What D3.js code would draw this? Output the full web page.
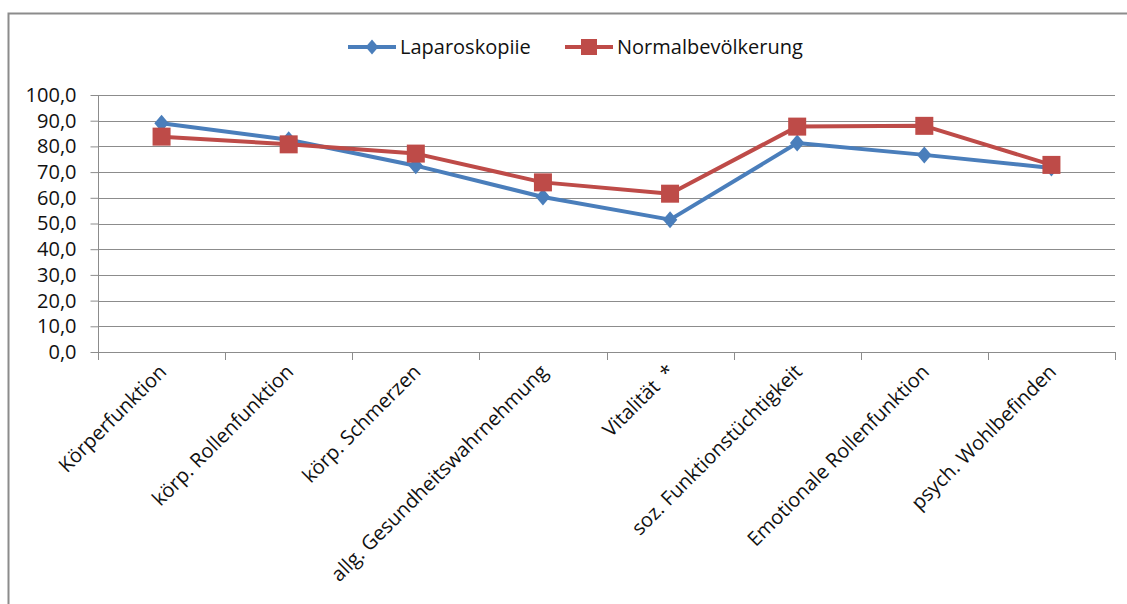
<!DOCTYPE html>
<html><head><meta charset="utf-8">
<script src="https://cdn.jsdelivr.net/npm/d3@7/dist/d3.min.js"></script>
<style>
html,body{margin:0;padding:0;background:#fff;}
svg{display:block;font-family:"Open Sans","Liberation Sans",sans-serif;}
</style></head>
<body><svg id="c" width="1127" height="604"></svg>
<script>
const categories = ["Körperfunktion","körp. Rollenfunktion","körp. Schmerzen","allg. Gesundheitswahrnehmung","Vitalität  *","soz. Funktionstüchtigkeit","Emotionale Rollenfunktion","psych. Wohlbefinden"];
const seriesNames = ["Laparoskopiie","Normalbevölkerung"];
const laparoskopie = [89.0, 82.6, 72.5, 60.3, 51.5, 81.3, 76.7, 71.6];
const normal = [83.8, 80.8, 77.2, 66.0, 61.6, 87.7, 88.0, 72.8];
const yTicks = [0,10,20,30,40,50,60,70,80,90,100];

(function(){
const svg = d3.select("#c");
const colors = ["#4A7EBB","#BE4B48"];
const pLeft = 98, pRight = 1115, pTop = 95, pBottom = 352;
const fs = 20;

// outer border
svg.append("path").attr("d","M8.5,604 L8.5,13.5 L1127,13.5").attr("fill","none").attr("stroke","#8c8c8c").attr("stroke-width",2);

const x = d3.scaleBand().domain(categories).range([pLeft,pRight]).padding(0);
const y = d3.scaleLinear().domain([0,100]).range([pBottom,pTop]);

// gridlines
svg.append("g").selectAll("line").data(yTicks.filter(d=>d>0)).join("line")
  .attr("x1",pLeft).attr("x2",pRight).attr("y1",d=>Math.round(y(d))+0.5).attr("y2",d=>Math.round(y(d))+0.5)
  .attr("stroke","#8c8c8c").attr("stroke-width",1);

// y axis
const yAxis = d3.axisLeft(y).tickValues(yTicks).tickSize(8).tickPadding(14)
  .tickFormat(d=>d3.format(".1f")(d).replace(".",","));
const gy = svg.append("g").attr("transform",`translate(${pLeft+0.5},0)`).call(yAxis);
gy.select(".domain").attr("stroke","#8c8c8c").attr("d",`M0,${pTop}V${pBottom}`);
gy.selectAll(".tick line").attr("stroke","#8c8c8c");
gy.selectAll(".tick text").attr("font-size",fs).attr("fill","#111").attr("font-family","'Open Sans','Liberation Sans',sans-serif");

// x axis line + ticks at band boundaries
const bounds = categories.map(c=>x(c)).concat([pRight]);
svg.append("line").attr("x1",pLeft).attr("x2",pRight).attr("y1",pBottom+0.5).attr("y2",pBottom+0.5).attr("stroke","#8c8c8c");
svg.append("g").selectAll("line").data(bounds).join("line")
  .attr("x1",d=>Math.round(d)+0.5).attr("x2",d=>Math.round(d)+0.5).attr("y1",pBottom).attr("y2",pBottom+8)
  .attr("stroke","#8c8c8c");

// x labels
svg.append("g").selectAll("text").data(categories).join("text")
  .attr("transform",d=>`translate(${x(d)+x.bandwidth()/2+6},${pBottom+21}) rotate(-45)`)
  .attr("text-anchor","end").attr("font-size",fs).attr("fill","#111")
  .style("white-space","pre").text(d=>d);

const cx = d => x(d)+x.bandwidth()/2;
const data = [laparoskopie, normal];
const line = d3.line().x((d,i)=>cx(categories[i])).y(d=>y(d));

data.forEach((vals,k)=>{
  svg.append("path").datum(vals).attr("d",line).attr("fill","none")
    .attr("stroke",colors[k]).attr("stroke-width",4).attr("stroke-linejoin","round");
});
// markers
const diamond = s => `M0,${-s}L${s*0.85},0L0,${s}L${-s*0.85},0Z`;
svg.append("g").selectAll("path").data(laparoskopie).join("path")
  .attr("transform",(d,i)=>`translate(${cx(categories[i])},${y(d)})`)
  .attr("d",diamond(8.5)).attr("fill",colors[0]);
svg.append("g").selectAll("rect").data(normal).join("rect")
  .attr("x",(d,i)=>cx(categories[i])-9).attr("y",d=>y(d)-9).attr("width",18).attr("height",18)
  .attr("fill",colors[1]);

// legend
const leg = [{x:348,label:seriesNames[0]},{x:565,label:seriesNames[1]}];
leg.forEach((l,k)=>{
  const g = svg.append("g").attr("transform",`translate(${l.x},47)`);
  g.append("line").attr("x1",0).attr("x2",48).attr("stroke",colors[k]).attr("stroke-width",4);
  if(k===0) g.append("path").attr("transform","translate(24,0)").attr("d",diamond(7.5)).attr("fill",colors[0]);
  else g.append("rect").attr("x",24-8).attr("y",-8).attr("width",16).attr("height",16).attr("fill",colors[1]);
  g.append("text").attr("x",52).attr("y",0).attr("dy","0.35em").attr("font-size",fs).attr("fill","#111").text(l.label);
});
})();
</script></body></html>
